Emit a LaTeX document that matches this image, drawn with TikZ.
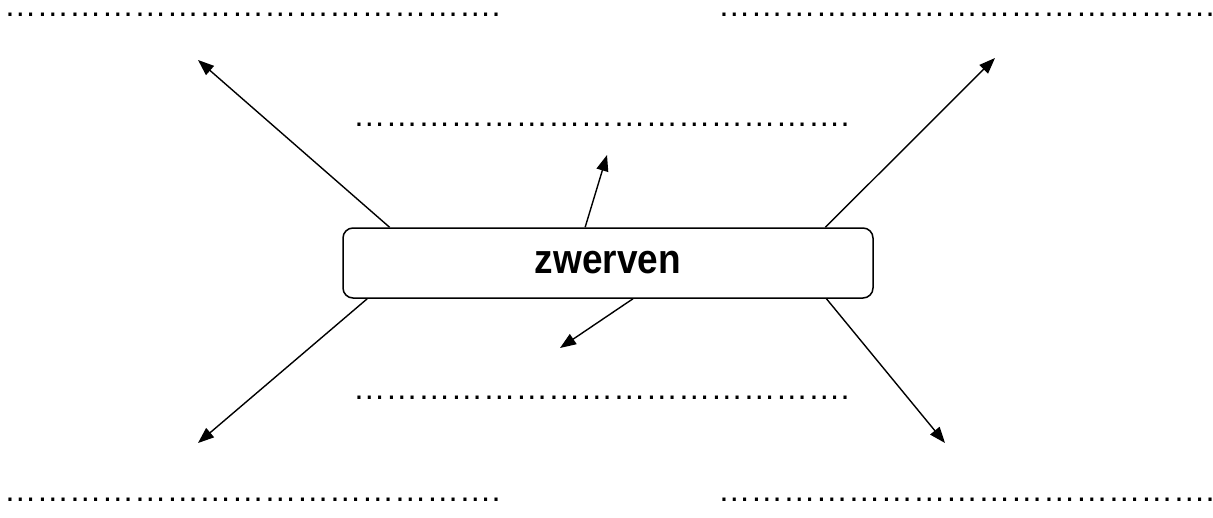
\documentclass[tikz,border=0pt]{standalone}
\usepackage{fontspec}
\setmainfont{Liberation Sans}
\newfontfamily\dotfont{Liberation Sans}
\usetikzlibrary{arrows.meta,positioning,calc}
\newcommand{\Lijn}[2]% pos, name
{\node[anchor=base west,inner sep=0,text height=4pt,text depth=0pt] (#2) at (#1)
  {\dotfont\fontsize{32.5}{38}\selectfont ……………{}……………{}……………{}.};
}
\newcommand{\Pijl}[3]% from, to, style
{ \draw[-{Triangle[length=16pt,width=12pt]},line width=1.4pt,#3] (#1) -- (#2);}

\begin{document}
\begin{tikzpicture}[x=1pt,y=-1pt]
        \useasboundingbox (0,0) rectangle (1213,517);
        \Lijn{4,16.5}{LB}
        \Lijn{718,16.5}{RB}
        \Lijn{353,126.5}{MB}
        \Lijn{353,399.5}{MO}
        \Lijn{4,501.5}{LO}
        \Lijn{718,501.5}{RO}
        \node[draw,line width=1.5pt,rounded corners=10pt,minimum width=530pt,minimum height=70pt,
              font=\bfseries\fontsize{37}{44}\selectfont] (zw) at (608,263) {\scalebox{1}[1.12]{zwerven}};
        % eindpunten van de pijlen
        \coordinate (lb) at (198,60);
        \coordinate (rb) at (995,58);
        \coordinate (lo) at (198,443);
        \coordinate (ro) at (945,443);
        \coordinate (mb) at (607,155);
        \coordinate (mo) at (560,348);
        \Pijl{$(zw.north west)!0.089!(zw.north east)$}{lb}{black}
        \Pijl{$(zw.north west)!0.909!(zw.north east)$}{rb}{black}
        \Pijl{$(zw.south west)!0.047!(zw.south east)$}{lo}{black}
        \Pijl{$(zw.south west)!0.911!(zw.south east)$}{ro}{black}
        \Pijl{$(zw.north west)!0.457!(zw.north east)$}{mb}{black}
        \Pijl{$(zw.south west)!0.547!(zw.south east)$}{mo}{black}
      \end{tikzpicture}
\end{document}
